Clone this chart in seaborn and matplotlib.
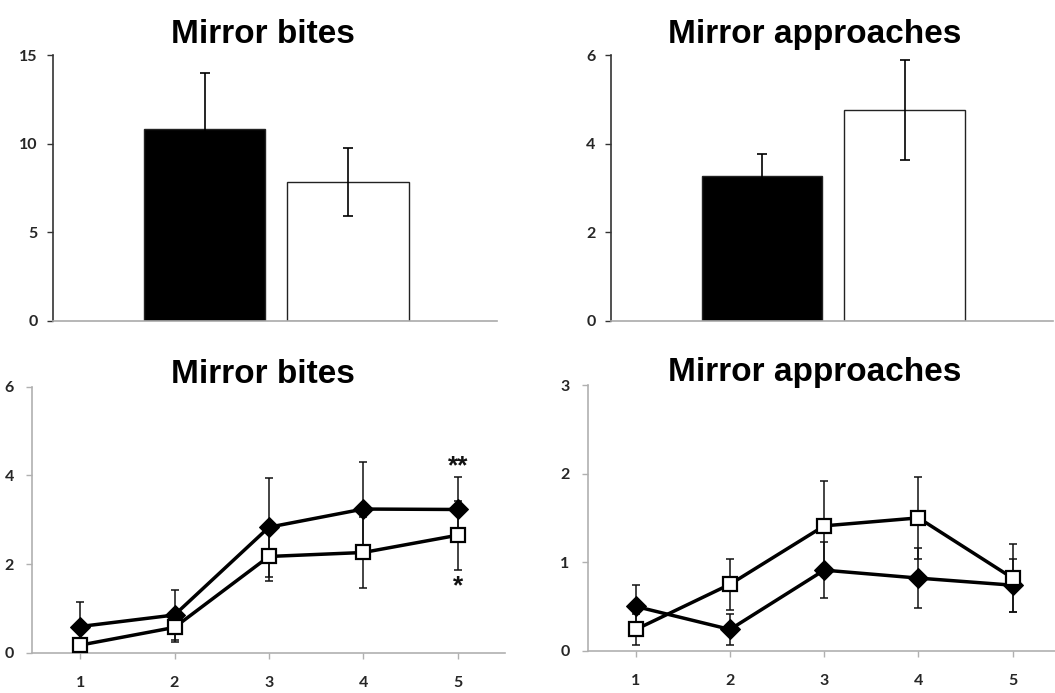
import matplotlib
matplotlib.use("Agg")
import matplotlib.pyplot as plt
import seaborn as sns

# ---- data ----
groups = ["Group A", "Group B"]
bites_mean = [10.83, 7.82]
bites_err = [3.16, 1.91]
approach_mean = [3.26, 4.76]
approach_err = [0.51, 1.12]

days = [1, 2, 3, 4, 5]
bites_black = [0.59, 0.85, 2.83, 3.24, 3.23]
bites_black_err = [0.56, 0.56, 1.12, 1.05, 0.74]
bites_white = [0.17, 0.57, 2.17, 2.26, 2.65]
bites_white_err = [0.10, 0.34, 0.55, 0.81, 0.78]

appr_black = [0.50, 0.24, 0.91, 0.82, 0.74]
appr_black_err = [0.24, 0.18, 0.32, 0.34, 0.30]
appr_white = [0.24, 0.75, 1.41, 1.50, 0.82]
appr_white_err = [0.18, 0.29, 0.51, 0.46, 0.38]

sns.set_theme(style="white")
plt.rcParams["font.family"] = ["Lato", "DejaVu Sans"]

fig = plt.figure(figsize=(10.55, 6.93), dpi=100, facecolor="white")

ax_tl = fig.add_axes([0.0502, 0.5368, 0.4209, 0.3838])
ax_tr = fig.add_axes([0.5789, 0.5368, 0.4192, 0.3838])
ax_bl = fig.add_axes([0.0303, 0.0582, 0.4483, 0.3838])
ax_br = fig.add_axes([0.5571, 0.0610, 0.4429, 0.3834])

title_font = dict(family="Liberation Sans", fontsize=24, fontweight="bold", color="black")


def style_axes(ax, left_color, bottom_color, ypad):
    for side in ["top", "right"]:
        ax.spines[side].set_visible(False)
    ax.spines["left"].set_color(left_color)
    ax.spines["bottom"].set_color(bottom_color)
    ax.spines["left"].set_linewidth(1.2)
    ax.spines["bottom"].set_linewidth(1.2)
    ax.tick_params(axis="y", direction="out", length=4, width=1, color=left_color,
                   pad=ypad, labelsize=11.5, left=True)
    for lab in ax.get_yticklabels():
        lab.set_fontweight("bold")
    ax.set_xlabel("")
    ax.set_ylabel("")


# ---- top row: bar charts ----
for ax, means, errs, ylim, yticks, title, tx in [
    (ax_tl, bites_mean, bites_err, 15, [0, 5, 10, 15], "Mirror bites", 0.472),
    (ax_tr, approach_mean, approach_err, 6, [0, 2, 4, 6], "Mirror approaches", 0.462),
]:
    sns.barplot(x=groups, y=means, hue=groups, palette=["black", "white"],
                legend=False, width=0.846, edgecolor="#222222", linewidth=1.0, ax=ax)
    ax.errorbar(range(len(groups)), means, yerr=errs, fmt="none", ecolor="black",
                elinewidth=1.2, capsize=3.5, capthick=1.2, zorder=5)
    ax.set_xlim(-1.06, 2.04)
    ax.set_ylim(0, ylim)
    ax.set_yticks(yticks)
    ax.set_xticks([])
    style_axes(ax, "#333333", "#aaaaaa", 7)
    ax.set_title(title, x=tx, pad=9, **title_font)

# ---- bottom row: line charts ----
for ax, black, black_err, white, white_err, ylim, yticks, title, tx, xmax in [
    (ax_bl, bites_black, bites_black_err, bites_white, bites_white_err, 6, [0, 2, 4, 6],
     "Mirror bites", 0.488, 5.5),
    (ax_br, appr_black, appr_black_err, appr_white, appr_white_err, 3, [0, 1, 2, 3],
     "Mirror approaches", 0.486, 5.45),
]:
    ax.errorbar(days, black, yerr=black_err, fmt="none", ecolor="#111111",
                elinewidth=1.1, capsize=3, capthick=1.1, zorder=1)
    ax.errorbar(days, white, yerr=white_err, fmt="none", ecolor="#111111",
                elinewidth=1.1, capsize=3, capthick=1.1, zorder=1)
    sns.lineplot(x=days, y=black, color="black", linewidth=2.5, marker="D",
                 markersize=10, markerfacecolor="black", markeredgecolor="black", ax=ax, zorder=3)
    sns.lineplot(x=days, y=white, color="black", linewidth=2.5, marker="s",
                 markersize=10.5, markerfacecolor="white", markeredgecolor="black",
                 markeredgewidth=1.6, ax=ax, zorder=4)
    ax.set_xlim(0.49, xmax)
    ax.set_ylim(0, ylim)
    ax.set_yticks(yticks)
    ax.set_xticks(days)
    style_axes(ax, "#b0b0b0", "#b0b0b0", 9)
    ax.tick_params(axis="x", direction="out", length=4, width=1, color="#b0b0b0",
                   pad=13, labelsize=11.5, bottom=True)
    for lab in ax.get_xticklabels():
        lab.set_fontweight("bold")
    ax.set_title(title, x=tx, pad=3, **title_font)

# significance marks on day 5 of mirror bites
ax_bl.text(5, 4.2, "**", ha="center", va="center", fontsize=19, fontweight="bold",
           color="#111111", family="Liberation Sans")
ax_bl.text(5, 1.5, "*", ha="center", va="center", fontsize=19, fontweight="bold",
           color="#111111", family="Liberation Sans")

fig.savefig("out.png", dpi=100, facecolor="white")
